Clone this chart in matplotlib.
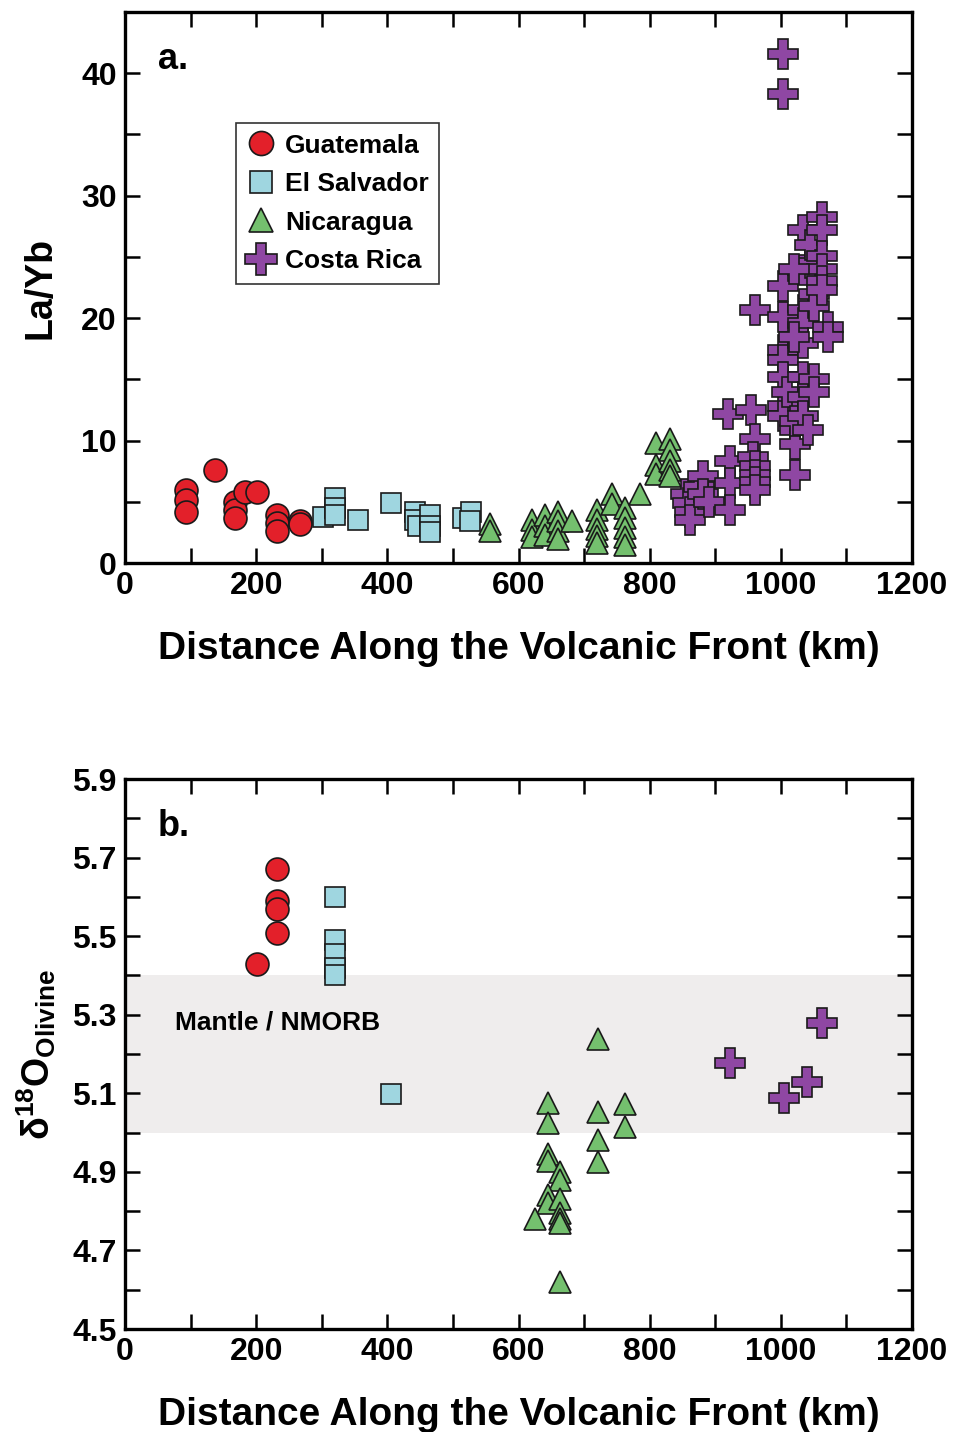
import numpy as np
import matplotlib
matplotlib.use("Agg")
import matplotlib.pyplot as plt
from matplotlib.ticker import MultipleLocator, FixedLocator, FormatStrFormatter

plt.rcParams['font.family'] = ['Liberation Sans', 'DejaVu Sans']
plt.rcParams['font.weight'] = 'bold'
plt.rcParams['mathtext.fontset'] = 'custom'
plt.rcParams['mathtext.rm'] = 'Liberation Sans'
plt.rcParams['mathtext.bf'] = 'Liberation Sans:bold'
plt.rcParams['mathtext.it'] = 'Liberation Sans:italic'

# panel a: La/Yb vs distance
guat_x = [93, 93, 93, 137, 168, 168, 168, 183, 201, 231, 231, 231, 267, 267]
guat_y = [6.0, 5.15, 4.2, 7.6, 5.0, 4.3, 3.7, 5.8, 5.8, 3.9, 3.25, 2.6, 3.4, 3.2]

els_x = [302, 320, 320, 320, 356, 406, 442, 442, 447, 465, 465, 465, 516, 528, 526]
els_y = [3.8, 5.3, 4.5, 3.9, 3.5, 4.9, 4.2, 3.5, 3.0, 3.9, 3.0, 2.5, 3.65, 4.2, 3.4]

nic_x = [556, 556, 620, 620, 620, 640, 640, 640, 660, 660, 660, 660, 681,
         719, 719, 719, 719, 719, 742, 742, 762, 762, 762, 762, 762, 785,
         810, 810, 810, 831, 831, 831, 831, 831]
nic_y = [3.2, 2.6, 3.5, 2.7, 2.15, 3.9, 3.0, 2.3, 4.2, 3.4, 2.6, 2.0, 3.4,
         4.3, 3.5, 2.8, 2.2, 1.6, 5.6, 4.8, 4.5, 3.7, 2.9, 2.1, 1.5, 5.6,
         9.8, 8.0, 7.3, 10.1, 9.2, 8.3, 7.6, 7.1]

cr_x = [855, 858, 861, 861, 875, 882, 882, 890, 922, 920, 922, 922, 955, 960,
        958, 960, 960, 960, 960, 960, 1004, 1004, 1004, 1004, 1004, 1004, 1004,
        1004, 1004, 1010, 1021, 1021, 1021, 1021, 1034, 1034, 1034, 1034, 1034,
        1034, 1034, 1034, 1041, 1044, 1044, 1050, 1050, 1050, 1050, 1062, 1062,
        1062, 1062, 1062, 1062, 1072, 1072, 1020, 1020]
cr_y = [5.6, 4.9, 4.2, 3.5, 6.2, 7.1, 5.6, 5.0, 8.3, 12.2, 6.5, 4.3, 12.5, 10.1,
        8.7, 7.9, 7.2, 6.6, 6.0, 20.7, 41.6, 38.3, 22.6, 20.1, 17.4, 16.6, 15.2,
        12.8, 12.0, 14.0, 10.9, 9.7, 7.2, 11.6, 27.2, 23.9, 20.7, 19.6, 18.0,
        15.2, 13.6, 12.0, 10.9, 24.5, 26.0, 22.0, 21.0, 15.0, 14.0, 28.3, 27.2,
        25.1, 24.0, 23.0, 22.3, 19.3, 18.5, 18.5, 24.0]

# panel b: d18O olivine vs distance
guat_bx = [231, 231, 231, 231, 201]
guat_by = [5.67, 5.59, 5.568, 5.509, 5.43]
els_bx = [320, 320, 320, 320, 320, 406]
els_by = [5.60, 5.49, 5.455, 5.42, 5.40, 5.098]
nic_bx = [721, 645, 645, 721, 763, 763, 721, 721, 645, 645, 663, 663, 645, 645,
          663, 625, 663, 663, 663, 663]
nic_by = [5.238, 5.075, 5.024, 5.053, 5.073, 5.015, 4.98, 4.924, 4.946, 4.927,
          4.90, 4.88, 4.84, 4.82, 4.83, 4.78, 4.795, 4.78, 4.77, 4.62]
cr_bx = [1063, 922, 1040, 1005]
cr_by = [5.28, 5.177, 5.13, 5.087]

mantle_band = (5.0, 5.4)
b_ticks = [4.5, 4.7, 4.9, 5.1, 5.3, 5.5, 5.7, 5.9]

names = ['Guatemala', 'El Salvador', 'Nicaragua', 'Costa Rica']
colors = ['#e3202a', '#9fd6e0', '#74c06e', '#8f47a3']
markers = ['o', 's', '^', 'P']
msizes = [16.5, 15, 16, 21.5]

fig = plt.figure(figsize=(9.55, 14.32), dpi=100)
ax1 = fig.add_axes([0.1309, 0.6068, 0.8241, 0.3848])
ax2 = fig.add_axes([0.1309, 0.0719, 0.8241, 0.3841])


def style_axes(ax):
    for s in ax.spines.values():
        s.set_linewidth(2.4)
    ax.tick_params(which='both', direction='in', top=True, right=True,
                   length=11, width=1.8, labelsize=23, pad=6)
    ax.set_xlim(0, 1200)
    ax.xaxis.set_major_locator(MultipleLocator(200))
    ax.xaxis.set_minor_locator(MultipleLocator(100))
    ax.set_xlabel('Distance Along the Volcanic Front (km)', fontsize=28,
                  fontweight='bold', labelpad=21)


data_a = [(guat_x, guat_y), (els_x, els_y), (nic_x, nic_y), (cr_x, cr_y)]
for (xs, ys), n, c, m, ms in zip(data_a, names, colors, markers, msizes):
    ax1.plot(xs, ys, linestyle='none', marker=m, markersize=ms,
             markerfacecolor=c, markeredgecolor='#1a1a1a', markeredgewidth=1.2,
             label=n)
style_axes(ax1)
ax1.set_ylim(0, 45)
ax1.yaxis.set_major_locator(MultipleLocator(10))
ax1.yaxis.set_minor_locator(MultipleLocator(5))
ax1.set_ylabel('La/Yb', fontsize=27, fontweight='bold', labelpad=16)
ax1.text(0.042, 0.945, 'a.', transform=ax1.transAxes, fontsize=26,
         fontweight='bold', va='top')
leg = ax1.legend(loc='upper left', bbox_to_anchor=(0.141, 0.7985),
                 prop={'size': 19, 'weight': 'bold'}, frameon=True,
                 fancybox=False, edgecolor='black', handletextpad=0.35,
                 borderpad=0.4, labelspacing=0.55, handlelength=1.1,
                 borderaxespad=0, markerscale=1.05)
leg.get_frame().set_linewidth(1.2)

ax2.axhspan(mantle_band[0], mantle_band[1], color='#efeded', zorder=0, lw=0)
data_b = [(guat_bx, guat_by), (els_bx, els_by), (nic_bx, nic_by), (cr_bx, cr_by)]
for (xs, ys), n, c, m, ms in zip(data_b, names, colors, markers, msizes):
    ax2.plot(xs, ys, linestyle='none', marker=m, markersize=ms,
             markerfacecolor=c, markeredgecolor='#1a1a1a', markeredgewidth=1.2,
             zorder=3)
style_axes(ax2)
ax2.set_ylim(4.5, 5.9)
ax2.yaxis.set_major_locator(FixedLocator(b_ticks))
ax2.yaxis.set_minor_locator(MultipleLocator(0.1))
ax2.yaxis.set_major_formatter(FormatStrFormatter('%.1f'))
ax2.set_ylabel(r'$\mathrm{\delta}^{\mathbf{18}}\mathbf{O}_{\mathbf{Olivine}}$',
               fontsize=27, labelpad=10)
ax2.text(0.042, 0.945, 'b.', transform=ax2.transAxes, fontsize=26,
         fontweight='bold', va='top')
ax2.text(76, 5.28, 'Mantle / NMORB', fontsize=19, fontweight='bold',
         va='center', ha='left')

for ax in (ax1, ax2):
    for lab in ax.get_xticklabels() + ax.get_yticklabels():
        lab.set_fontweight('bold')

fig.savefig('out.png', dpi=100)
